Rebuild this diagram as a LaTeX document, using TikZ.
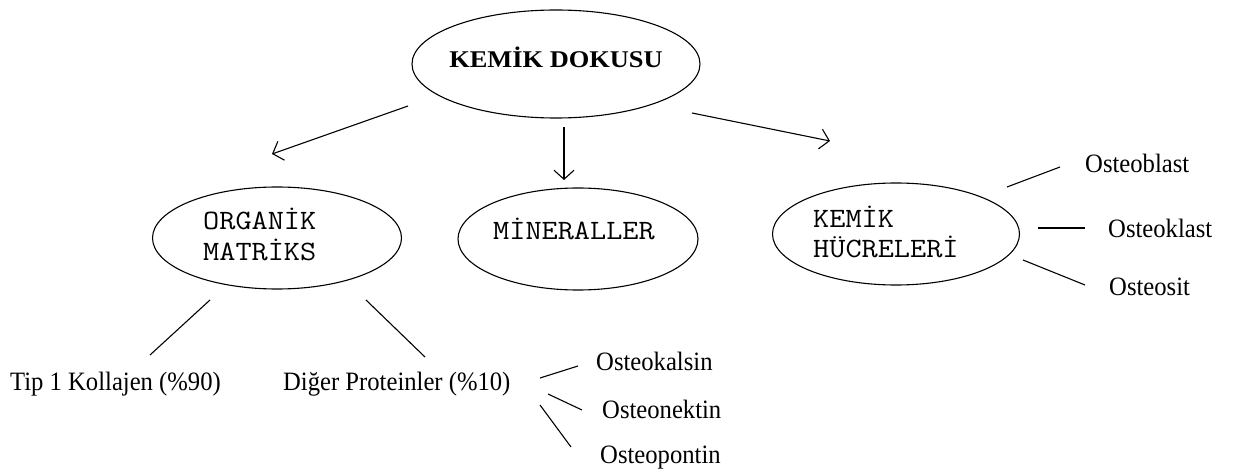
\documentclass[tikz,border=0pt]{standalone}
\usepackage{fontspec}
\usepackage{graphicx}
\setmainfont{Liberation Serif}
\usetikzlibrary{shapes.geometric,arrows.meta}
\newcommand{\wide}[1]{\scalebox{1.12}[1]{#1}}
\newcommand{\narrow}[1]{\scalebox{0.93}[1]{#1}}
\newcommand{\broad}[1]{\scalebox{1.1}[1]{#1}}
\begin{document}
\begin{tikzpicture}[x=1pt,y=-1pt,
  oval/.style={draw,ellipse,line width=1.1pt,inner sep=0pt},
  conn/.style={line width=1.1pt},
  arr/.style={line width=1.1pt,-{Straight Barb[length=9pt,width=20pt,line width=1.1pt]}},
  mono/.style={font=\ttfamily\fontsize{28}{30}\selectfont,inner sep=0pt,anchor=base west},
  lbl/.style={font=\fontsize{26.5}{28}\selectfont,inner sep=0pt,anchor=base west},
  title/.style={font=\bfseries\fontsize{24}{26}\selectfont,inner sep=0pt,anchor=base}
]
\useasboundingbox (0,0) rectangle (1234,470);
% ellipses
\node[oval,minimum width=288pt,minimum height=108pt] (kd) at (556,64) {};
\node[oval,minimum width=249pt,minimum height=102pt] (om) at (277,238) {};
\node[oval,minimum width=240pt,minimum height=102pt] (mn) at (578,239) {};
\node[oval,minimum width=247pt,minimum height=102pt] (kh) at (896,234) {};
% texts in ellipses
\node[title] (kdt) at (556,68) {\broad{KEMİK DOKUSU}};
\node[mono] (om1) at (203,230) {\wide{ORGANİK}};
\node[mono] (om2) at (203,261) {\wide{MATRİKS}};
\node[mono] (mnt) at (493,240) {\wide{MİNERALLER}};
\node[mono] (kh1) at (813,228) {\wide{KEMİK}};
\node[mono] (kh2) at (813,258) {\wide{HÜCRELERİ}};
% labels
\node[lbl] (tip) at (10,390) {\narrow{Tip 1 Kollajen (\%90)}};
\node[lbl] (dig) at (283,390) {\narrow{Diğer Proteinler (\%10)}};
\node[lbl] (okal) at (596,370) {\narrow{Osteokalsin}};
\node[lbl] (onek) at (602,418) {\narrow{Osteonektin}};
\node[lbl] (opon) at (600,463) {\narrow{Osteopontin}};
\node[lbl] (oblast) at (1085,173) {\narrow{Osteoblast}};
\node[lbl] (oklast) at (1108,238) {\narrow{Osteoklast}};
\node[lbl] (osit) at (1109,295) {\narrow{Osteosit}};
% connector end points
\coordinate (a1s) at (408,106); \coordinate (a1e) at (272,154);
\coordinate (a2s) at (564,127); \coordinate (a2e) at (564,180);
\coordinate (a3s) at (692,113); \coordinate (a3e) at (830,141);
\coordinate (t1) at (210,300); \coordinate (t2) at (150,355);
\coordinate (d1) at (366,300); \coordinate (d2) at (425,357);
\coordinate (k1) at (540,378); \coordinate (k2) at (578,366);
\coordinate (n1) at (548,394); \coordinate (n2) at (582,410);
\coordinate (p1) at (540,405); \coordinate (p2) at (571,447);
\coordinate (b1) at (1007,187); \coordinate (b2) at (1060,167);
\coordinate (c1) at (1038,228); \coordinate (c2) at (1085,228);
\coordinate (s1) at (1023,260); \coordinate (s2) at (1085,285);
% arrows
\draw[arr] (a1s) -- (a1e);
\draw[arr] (a2s) -- (a2e);
\draw[arr] (a3s) -- (a3e);
% lines
\draw[conn] (t1) -- (t2);
\draw[conn] (d1) -- (d2);
\draw[conn] (k1) -- (k2);
\draw[conn] (n1) -- (n2);
\draw[conn] (p1) -- (p2);
\draw[conn] (b1) -- (b2);
\draw[conn] (c1) -- (c2);
\draw[conn] (s1) -- (s2);
\end{tikzpicture}
\end{document}
